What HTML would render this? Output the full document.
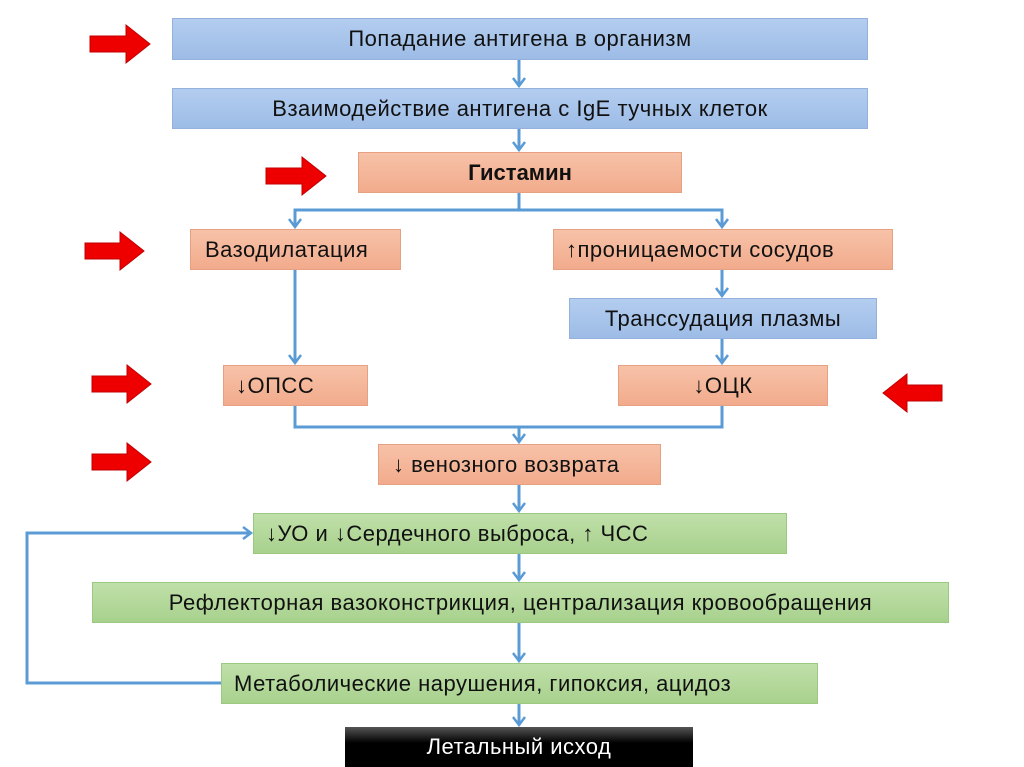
<!DOCTYPE html>
<html><head><meta charset="utf-8"><style>
body{margin:0;width:1024px;height:767px;background:#fff;position:relative;overflow:hidden;font-family:"Liberation Sans","DejaVu Sans",sans-serif;}
.b{position:absolute;box-sizing:border-box;display:flex;align-items:center;font-size:22px;letter-spacing:0.5px;color:#111;white-space:nowrap;}
.bl{background:linear-gradient(#b3cdef,#9dbce6);border:1px solid #93b1dc;}
.s{background:linear-gradient(#f7c2a8,#f2ab8c);border:1px solid #e6a183;}
.g{background:linear-gradient(#c0e0aa,#a8d18d);border:1px solid #9cc982;}
.c{justify-content:center}
.l{padding-left:12px}
svg{position:absolute;left:0;top:0}
</style></head><body>
<svg width="1024" height="767">
<defs><marker id="a" markerWidth="14" markerHeight="14" refX="10" refY="7" orient="auto" markerUnits="userSpaceOnUse"><path d="M2,1 L10,7 L2,13" fill="none" stroke="#5b9bd5" stroke-width="2.5"/></marker></defs>
<g stroke="#5b9bd5" stroke-width="3" fill="none">
<line x1="519" y1="60" x2="519" y2="86" marker-end="url(#a)"/>
<line x1="519" y1="129" x2="519" y2="150" marker-end="url(#a)"/>
<polyline points="519,193 519,210"/>
<polyline points="295,227 295,210 722,210 722,227"/>
<line x1="295" y1="212" x2="295" y2="227" marker-end="url(#a)"/>
<line x1="722" y1="212" x2="722" y2="227" marker-end="url(#a)"/>
<line x1="295" y1="270" x2="295" y2="363" marker-end="url(#a)"/>
<line x1="722" y1="270" x2="722" y2="296" marker-end="url(#a)"/>
<line x1="722" y1="339" x2="722" y2="363" marker-end="url(#a)"/>
<polyline points="295,406 295,427 722,427 722,406"/>
<line x1="519" y1="427" x2="519" y2="442" marker-end="url(#a)"/>
<line x1="519" y1="485" x2="519" y2="511" marker-end="url(#a)"/>
<line x1="519" y1="554" x2="519" y2="580" marker-end="url(#a)"/>
<line x1="519" y1="623" x2="519" y2="661" marker-end="url(#a)"/>
<line x1="519" y1="704" x2="519" y2="725" marker-end="url(#a)"/>
<polyline points="221,683 27,683 27,533 251,533" marker-end="url(#a)"/>
</g>
<g fill="#ee0000" stroke="#c00000" stroke-width="1">
<path d="M90,36 h36 v-11 l24,19 l-24,19 v-11 h-36z"/>
<path d="M266,168 h36 v-11 l24,19 l-24,19 v-11 h-36z"/>
<path d="M85,243 h35 v-11 l24,19 l-24,19 v-11 h-35z"/>
<path d="M92,376 h35 v-11 l24,19 l-24,19 v-11 h-35z"/>
<path d="M92,454 h35 v-11 l24,19 l-24,19 v-11 h-35z"/>
<path d="M942,385 h-35 v-11 l-24,19 l24,19 v-11 h35z"/>
</g>
</svg>
<div class="b bl c" style="left:172px;top:18px;width:696px;height:42px">Попадание антигена в организм</div>
<div class="b bl c" style="left:172px;top:88px;width:696px;height:41px">Взаимодействие антигена с IgE тучных клеток</div>
<div class="b s c" style="left:358px;top:152px;width:324px;height:41px;font-weight:bold;letter-spacing:0">Гистамин</div>
<div class="b s l" style="left:190px;top:229px;width:211px;height:41px;padding-left:14px">Вазодилатация</div>
<div class="b s l" style="left:553px;top:229px;width:340px;height:41px">↑проницаемости сосудов</div>
<div class="b bl c" style="left:569px;top:298px;width:308px;height:41px">Транссудация плазмы</div>
<div class="b s l" style="left:223px;top:365px;width:145px;height:41px">↓ОПСС</div>
<div class="b s c" style="left:618px;top:365px;width:210px;height:41px">↓ОЦК</div>
<div class="b s l" style="left:378px;top:444px;width:283px;height:41px;padding-left:14px">↓ венозного возврата</div>
<div class="b g l" style="left:253px;top:513px;width:534px;height:41px">↓УО и ↓Сердечного выброса, ↑ ЧСС</div>
<div class="b g c" style="left:92px;top:582px;width:857px;height:41px">Рефлекторная вазоконстрикция, централизация кровообращения</div>
<div class="b g l" style="left:221px;top:663px;width:597px;height:41px">Метаболические нарушения, гипоксия, ацидоз</div>
<div class="b c" style="left:345px;top:727px;width:348px;height:40px;background:linear-gradient(#555,#000 40%);color:#fff">Летальный исход</div>
</body></html>
